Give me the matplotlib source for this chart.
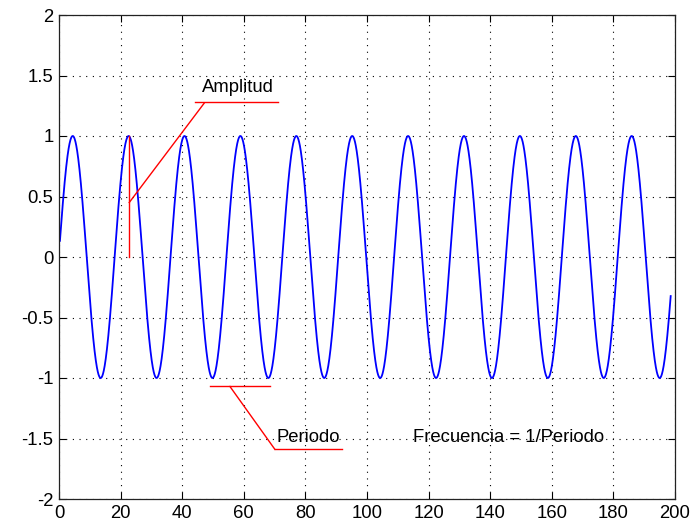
import numpy as np
import matplotlib.pyplot as plt

# parametros de la senal
amplitud = 1.0
frecuencia = 0.0551      # ciclos por unidad de x
x_pico = 4.45            # posicion del primer maximo
x_inicio = 0.3
x_fin = 198.6

# marcas de los ejes
xticks = [0, 20, 40, 60, 80, 100, 120, 140, 160, 180, 200]
yticks = [-2, -1.5, -1, -0.5, 0, 0.5, 1, 1.5, 2]
ytick_labels = ['-2', '-1.5', '-1', '-0.5', '0', '0.5', '1', '1.5', '2']

# anotaciones (coordenadas de datos)
amp_vertical_x = [22.7, 22.7]
amp_vertical_y = [0.0, 1.0]
amp_diag_x = [22.8, 47.1]
amp_diag_y = [0.45, 1.27]
amp_sub_x = [44.2, 71.1]
amp_sub_y = [1.285, 1.285]

per_linea_x = [49.0, 68.5]
per_linea_y = [-1.07, -1.07]
per_diag_x = [55.5, 70.1]
per_diag_y = [-1.07, -1.59]
per_sub_x = [70.1, 92.0]
per_sub_y = [-1.59, -1.59]

x = np.linspace(x_inicio, x_fin, 4000)
y = amplitud * np.cos(2 * np.pi * frecuencia * (x - x_pico))

plt.rcParams['font.family'] = ['Liberation Sans', 'DejaVu Sans']

fig = plt.figure(figsize=(6.97, 5.23), dpi=100)
ax = fig.add_axes([59/697, 1 - 499/523, 616/697, 484/523])

ax.plot(x, y, color='#0000ff', lw=1.3)

ax.plot(amp_vertical_x, amp_vertical_y, color='red', lw=1)
ax.plot(amp_diag_x, amp_diag_y, color='red', lw=1)
ax.plot(amp_sub_x, amp_sub_y, color='red', lw=1)
ax.plot(per_linea_x, per_linea_y, color='red', lw=1)
ax.plot(per_diag_x, per_diag_y, color='red', lw=1)
ax.plot(per_sub_x, per_sub_y, color='red', lw=1)

ax.text(46.4, 1.40, 'Amplitud', fontsize=13.3, va='center', ha='left')
ax.text(70.7, -1.49, 'Periodo', fontsize=13.3, va='center', ha='left')
ax.text(115.0, -1.49, 'Frecuencia = 1/Periodo', fontsize=13.3, va='center', ha='left')

ax.set_xlim(0, 200)
ax.set_ylim(-2, 2)
ax.set_xticks(xticks)
ax.set_yticks(yticks)
ax.set_yticklabels(ytick_labels)
ax.grid(True, color='black', linestyle=(0, (1, 5)), linewidth=0.8)
ax.tick_params(direction='in', length=5, width=0.8, top=True, right=True,
               labelsize=13.3, pad=4)
for s in ax.spines.values():
    s.set_color('#222222')
    s.set_linewidth(0.9)

fig.savefig('out.png', dpi=100)
